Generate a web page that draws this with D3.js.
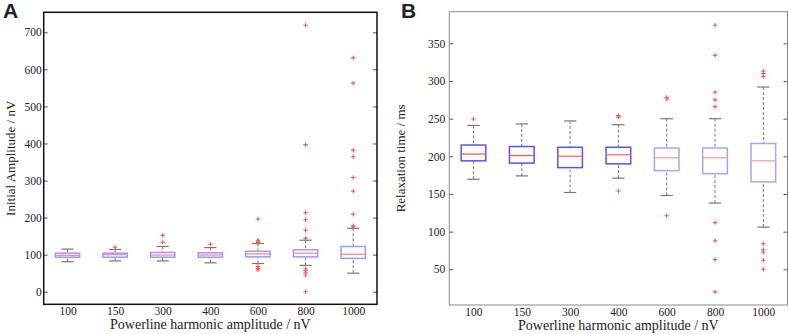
<!DOCTYPE html>
<html><head><meta charset="utf-8">
<script src="https://cdn.jsdelivr.net/npm/d3@7"></script>
<style>
html,body{margin:0;padding:0;background:#fff;}
svg{display:block;}
text{font-family:"Liberation Serif","Times New Roman",serif;fill:#222;}
</style></head>
<body>
<svg id="chart" width="789" height="334"></svg>
<script>
// ---------- data ----------
const categories = ["100","150","300","400","600","800","1000"];

// Panel A: Initial Amplitude / nV
const ampWhiskerLow  = [81, 83, 83, 78, 76, 71, 50];
const ampQ1          = [93, 93, 93, 93, 94, 94, 90];
const ampMedian      = [98, 100, 99, 99, 102, 104, 101];
const ampQ3          = [104, 104, 106, 105, 109, 113, 122];
const ampWhiskerHigh = [115, 114, 122, 119, 130, 139, 171];
const ampOutliers = [
  [],
  [120],
  [152, 133],
  [128],
  [196, 139, 136, 133, 68, 63, 59],
  [719, 397, 213, 194, 166, 144, 62, 57, 51, 45, 0],
  [631, 563, 382, 364, 308, 271, 209, 178, 175]
];
const ampTicks = [0, 100, 200, 300, 400, 500, 600, 700];

// Panel B: Relaxation time / ms
const relWhiskerLow  = [169.5, 174, 152, 171, 148, 138, 106];
const relQ1          = [194, 191, 185, 190, 181, 177, 166];
const relMedian      = [203, 201, 200, 202, 198, 198, 194];
const relQ3          = [215, 213, 212, 212, 211, 211, 217];
const relWhiskerHigh = [241, 243, 247, 242, 250, 250, 292];
const relOutliers = [
  [249.5],
  [],
  [],
  [254, 252, 154],
  [278, 276, 121],
  [374, 334, 285, 275, 266, 112, 88, 63, 20],
  [313, 310, 306, 84, 76, 73, 62, 50]
];
const relTicks = [50, 100, 150, 200, 250, 300, 350];

// ---------- drawing ----------
const svg = d3.select("#chart");

function panel(cfg) {
  const g = svg.append("g");
  const x = d3.scalePoint().domain(categories).range([cfg.left, cfg.right]).padding(0.5);
  const y = d3.scaleLinear().domain(cfg.domain).range([cfg.bottom, cfg.top]);
  const bw = x.step() * 0.51;

  // axes (inward ticks, both sides)
  const ax = g.append("g").attr("transform", `translate(${cfg.left},0)`)
    .call(d3.axisLeft(y).tickValues(cfg.ticks).tickSizeInner(-4).tickSizeOuter(0).tickPadding(cfg.pad));
  ax.select(".domain").remove();
  ax.selectAll("line").attr("stroke", "#555");
  ax.selectAll("text").style("font-size", "11.5px").attr("fill", "#222");
  const axr = g.append("g").attr("transform", `translate(${cfg.right},0)`)
    .call(d3.axisRight(y).tickValues(cfg.ticks).tickSizeInner(-4).tickSizeOuter(0).tickFormat(""));
  axr.select(".domain").remove();
  axr.selectAll("line").attr("stroke", "#555");

  const axb = g.append("g").attr("transform", `translate(0,${cfg.bottom})`)
    .call(d3.axisBottom(x).tickSize(0).tickPadding(3));
  axb.select(".domain").remove();
  axb.selectAll("text").style("font-size", "11.5px").attr("fill", "#222");

  const boxes = g.append("g").selectAll("g").data(categories).join("g");
  // whiskers
  boxes.append("line")
    .attr("x1", d => x(d)).attr("x2", d => x(d))
    .attr("y1", (d,i) => y(cfg.wh[i])).attr("y2", (d,i) => y(cfg.q3[i]))
    .attr("stroke", "#777").attr("stroke-width", 1).attr("stroke-dasharray", "3,2");
  boxes.append("line")
    .attr("x1", d => x(d)).attr("x2", d => x(d))
    .attr("y1", (d,i) => y(cfg.wl[i])).attr("y2", (d,i) => y(cfg.q1[i]))
    .attr("stroke", "#777").attr("stroke-width", 1).attr("stroke-dasharray", "3,2");
  // caps
  [cfg.wh, cfg.wl].forEach(arr => {
    boxes.append("line")
      .attr("x1", d => x(d) - bw/4).attr("x2", d => x(d) + bw/4)
      .attr("y1", (d,i) => y(arr[i])).attr("y2", (d,i) => y(arr[i]))
      .attr("stroke", "#777").attr("stroke-width", 1.2);
  });
  // boxes
  boxes.append("rect")
    .attr("x", d => x(d) - bw/2).attr("width", bw)
    .attr("y", (d,i) => y(cfg.q3[i])).attr("height", (d,i) => y(cfg.q1[i]) - y(cfg.q3[i]))
    .attr("fill", "none")
    .attr("stroke", (d,i) => cfg.boxColor[i]).attr("stroke-width", 1.5);
  // medians
  boxes.append("line")
    .attr("x1", d => x(d) - bw/2).attr("x2", d => x(d) + bw/2)
    .attr("y1", (d,i) => y(cfg.med[i])).attr("y2", (d,i) => y(cfg.med[i]))
    .attr("stroke", (d,i) => cfg.medColor[i]).attr("stroke-width", 1.3);
  // outliers
  boxes.each(function(d,i) {
    d3.select(this).selectAll("path.o").data(cfg.out[i]).join("path")
      .attr("class", "o")
      .attr("d", v => `M${x(d)-2.2},${y(v)}h4.4M${x(d)},${y(v)-2.2}v4.4`)
      .attr("stroke", "#ff5555").attr("stroke-width", 1.1);
  });

  // frame
  g.append("rect").attr("x", cfg.left).attr("y", cfg.top)
    .attr("width", cfg.right - cfg.left).attr("height", cfg.bottom - cfg.top)
    .attr("fill", "none").attr("stroke", cfg.frameColor).attr("stroke-width", cfg.frameWidth);

  // titles
  g.append("text").attr("x", (cfg.left + cfg.right)/2).attr("y", cfg.bottom + 25)
    .attr("text-anchor", "middle").style("font-size", "14px").text(cfg.xTitle);
  g.append("text").attr("transform", `translate(${cfg.yTitleX},${(cfg.top+cfg.bottom)/2}) rotate(-90)`)
    .attr("text-anchor", "middle").style("font-size", "13px").text(cfg.yTitle);
  g.append("text").attr("x", cfg.labelX).attr("y", 18)
    .style("font-family", "'Liberation Sans', Arial, sans-serif").style("font-weight", "bold")
    .style("font-size", "21px").attr("fill", "#000").text(cfg.label);
}

panel({
  left: 43.7, right: 377, top: 12.3, bottom: 304.3, domain: [-34, 754],
  ticks: ampTicks, pad: 2,
  wl: ampWhiskerLow, q1: ampQ1, med: ampMedian, q3: ampQ3, wh: ampWhiskerHigh, out: ampOutliers,
  boxColor: categories.map(() => "#9a9aff"), medColor: categories.map(() => "#ff8a8a"),
  frameColor: "#111", frameWidth: 1.5,
  xTitle: "Powerline harmonic amplitude / nV", yTitle: "Initial Amplitude / nV", yTitleX: 15,
  label: "A", labelX: 3
});

panel({
  left: 449.3, right: 787.5, top: 11.7, bottom: 305, domain: [2.6, 392],
  ticks: relTicks, pad: 4,
  wl: relWhiskerLow, q1: relQ1, med: relMedian, q3: relQ3, wh: relWhiskerHigh, out: relOutliers,
  boxColor: ["#5555f2","#5555f2","#5555f2","#5555f2","#a5a5ff","#a5a5ff","#a5a5ff"],
  medColor: ["#ff5a5a","#ff5a5a","#ff6a6a","#ff6a6a","#ffa0a0","#ffa0a0","#ffa0a0"],
  frameColor: "#888", frameWidth: 1,
  xTitle: "Powerline harmonic amplitude / nV", yTitle: "Relaxation time / ms", yTitleX: 405,
  label: "B", labelX: 401
});
</script>
</body></html>
